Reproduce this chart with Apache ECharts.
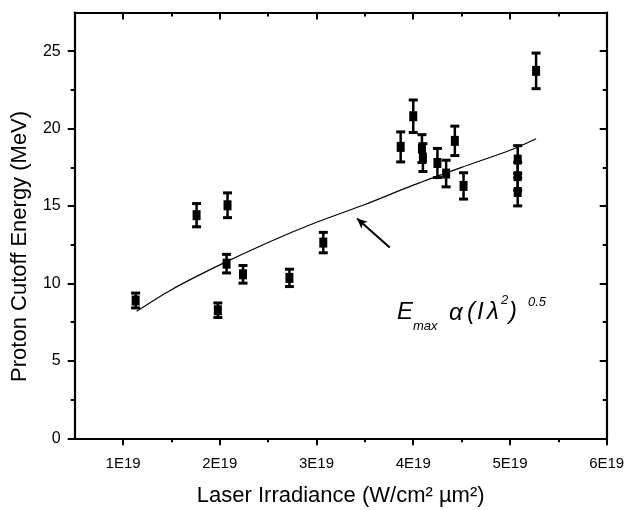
<!DOCTYPE html>
<html>
<head>
<meta charset="utf-8">
<script src="https://cdn.jsdelivr.net/npm/echarts@6/dist/echarts.min.js"></script>
<style>
  html, body { margin: 0; padding: 0; background: #fff; }
  #chart { width: 628px; height: 510px; }
</style>
</head>
<body>
<div id="chart"></div>
<script>
// irradiance is in units of 1E19 W/cm^2 um^2
var irradiance = [1.13, 1.76, 1.98, 2.07, 2.08, 2.24, 2.72, 3.07, 3.87, 4.00,
                  4.09, 4.10, 4.25, 4.34, 4.43, 4.52, 5.08, 5.08, 5.08, 5.27];
var cutoffEnergy = [8.90, 14.41, 8.27, 11.28, 15.05, 10.59, 10.36, 12.64, 18.82, 20.80,
                    18.71, 18.13, 17.78, 17.10, 19.21, 16.30, 18.00, 16.93, 15.91, 23.73];
var energyErr = [0.48, 0.75, 0.47, 0.60, 0.80, 0.57, 0.56, 0.66, 0.97, 1.05,
                 0.90, 0.90, 0.94, 0.86, 0.95, 0.85, 0.90, 0.90, 0.90, 1.15];

// scaling curve E ~ (I lambda^2)^0.5
var fitX = [1.14, 1.5, 2.0, 2.5, 3.0, 3.5, 4.0, 4.5, 5.0, 5.27];
var fitY = [8.2, 9.6, 11.2, 12.65, 13.95, 15.1, 16.35, 17.5, 18.6, 19.35];

// arrow pointing at the curve
var arrowFrom = [3.757, 12.32];
var arrowTo = [3.419, 14.19];

var xMajor = [1, 2, 3, 4, 5, 6];
var xMinor = [1.5, 2.5, 3.5, 4.5, 5.5];
var yMajor = [0, 5, 10, 15, 20, 25];
var yMinor = [2.5, 7.5, 12.5, 17.5, 22.5];

var FONT = '"Liberation Sans", Arial, sans-serif';
var myChart = echarts.init(document.getElementById('chart'));

var points = irradiance.map(function (x, i) { return [x, cutoffEnergy[i]]; });
var errBars = irradiance.map(function (x, i) {
  return [x, cutoffEnergy[i] - energyErr[i], cutoffEnergy[i] + energyErr[i]];
});
var fitLine = fitX.map(function (x, i) { return [x, fitY[i]]; });

function renderErr(params, api) {
  var x = api.value(0);
  var lo = api.coord([x, api.value(1)]);
  var hi = api.coord([x, api.value(2)]);
  var w = 4.5;
  return {
    type: 'group',
    children: [
      { type: 'line', shape: { x1: lo[0], y1: lo[1], x2: hi[0], y2: hi[1] }, style: { stroke: '#000', lineWidth: 2.5 } },
      { type: 'line', shape: { x1: lo[0] - w, y1: lo[1], x2: lo[0] + w, y2: lo[1] }, style: { stroke: '#000', lineWidth: 3 } },
      { type: 'line', shape: { x1: hi[0] - w, y1: hi[1], x2: hi[0] + w, y2: hi[1] }, style: { stroke: '#000', lineWidth: 3 } }
    ]
  };
}

// one axis builder for main and mirrored axes
function makeAxis(pos, ticks, len, inside, withLine, labels) {
  return {
    type: 'value',
    position: pos,
    gridIndex: 0,
    axisLine: { show: withLine, onZero: false, lineStyle: { color: '#000', width: 2.2 } },
    axisTick: { show: true, customValues: ticks, length: len, inside: inside, lineStyle: { color: '#000', width: 2 } },
    axisLabel: labels ? labels : { show: false },
    splitLine: { show: false }
  };
}

var xAxes = [
  makeAxis('bottom', xMajor, 7, false, true, {
    customValues: xMajor, margin: 18, color: '#000', fontFamily: FONT, fontSize: 15,
    formatter: function (v) { return v + 'E19'; }
  }),
  makeAxis('bottom', xMinor, 4, false, false),
  makeAxis('top', xMajor, 7, true, true),
  makeAxis('top', xMinor, 4, true, false)
];
xAxes.forEach(function (a) { a.min = 0.5; a.max = 6; });
xAxes[0].name = 'Laser Irradiance (W/cm\u00b2 \u00b5m\u00b2)';
xAxes[0].nameLocation = 'middle';
xAxes[0].nameGap = 47;
xAxes[0].nameTextStyle = { color: '#000', fontFamily: FONT, fontSize: 22 };

var yAxes = [
  makeAxis('left', yMajor, 7, false, true, {
    customValues: yMajor, margin: 14, color: '#000', fontFamily: FONT, fontSize: 16
  }),
  makeAxis('left', yMinor, 4, false, false),
  makeAxis('right', yMajor, 7, true, true),
  makeAxis('right', yMinor, 4, true, false)
];
yAxes.forEach(function (a) { a.min = 0; a.max = 27.5; });
yAxes[0].name = 'Proton Cutoff Energy (MeV)';
yAxes[0].nameLocation = 'middle';
yAxes[0].nameGap = 44;
yAxes[0].nameTextStyle = { color: '#000', fontFamily: FONT, fontSize: 22, padding: [0, 42, 0, 0] };

var fI = 'italic 24px ' + FONT;
var fS = 'italic 13px ' + FONT;

function txt(x, y, s, f) {
  return { type: 'text', x: x, y: y, silent: true, style: { text: s, font: f, fill: '#000', verticalAlign: 'middle' } };
}

myChart.setOption({
  backgroundColor: '#fff',
  animation: false,
  grid: { left: 74.7, right: 21.3, top: 12.5, bottom: 71.7, containLabel: false, outerBoundsMode: 'none' },
  xAxis: xAxes,
  yAxis: yAxes,
  series: [
    {
      type: 'line',
      data: fitLine,
      smooth: 0.3,
      showSymbol: false,
      lineStyle: { color: '#000', width: 1.2 },
      silent: true,
      markLine: {
        silent: true,
        symbol: ['none', 'arrow'],
        symbolSize: [7, 10],
        label: { show: false },
        lineStyle: { color: '#000', width: 2, type: 'solid' },
        data: [[{ coord: arrowFrom }, { coord: arrowTo }]]
      }
    },
    {
      type: 'custom',
      renderItem: renderErr,
      data: errBars,
      encode: { x: 0, y: [1, 2] },
      silent: true
    },
    {
      type: 'scatter',
      data: points,
      symbol: 'rect',
      symbolSize: [8, 10],
      itemStyle: { color: '#000', opacity: 1 },
      silent: true
    }
  ],
  graphic: [
    txt(397, 312, 'E', fI),
    txt(413, 326, 'max', fS),
    txt(449, 313, '\u03b1', fI),
    txt(467, 312, '(', fI),
    txt(477, 312, 'I', fI),
    txt(487, 312, '\u03bb', fI),
    txt(501, 300, '2', fS),
    txt(509, 312, ')', fI),
    txt(528, 302, '0.5', fS)
  ]
});
</script>
</body>
</html>
